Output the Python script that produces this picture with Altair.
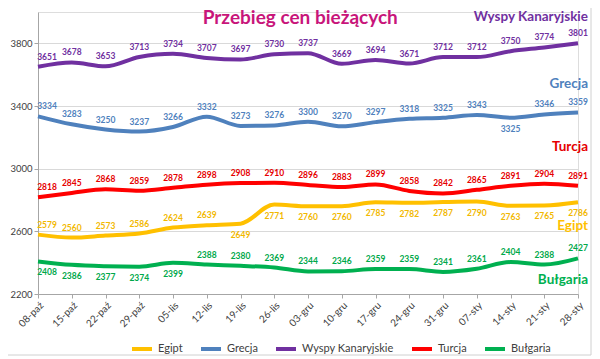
import altair as alt
import pandas as pd

cats = ["08-paź", "15-paź", "22-paź", "29-paź", "05-lis", "12-lis", "19-lis", "26-lis",
        "03-gru", "10-gru", "17-gru", "24-gru", "31-gru", "07-sty", "14-sty", "21-sty", "28-sty"]

egipt = [2579, 2560, 2573, 2586, 2624, 2639, 2649, 2771, 2760, 2760, 2785, 2782, 2787, 2790, 2763, 2765, 2786]
grecja = [3334, 3283, 3250, 3237, 3266, 3332, 3273, 3276, 3300, 3270, 3297, 3318, 3325, 3343, 3325, 3346, 3359]
wyspy = [3651, 3678, 3653, 3713, 3734, 3707, 3697, 3730, 3737, 3669, 3694, 3671, 3712, 3712, 3750, 3774, 3801]
turcja = [2818, 2845, 2868, 2859, 2878, 2898, 2908, 2910, 2896, 2883, 2899, 2858, 2842, 2865, 2891, 2904, 2891]
bulgaria = [2408, 2386, 2377, 2374, 2399, 2388, 2380, 2369, 2344, 2346, 2359, 2359, 2341, 2361, 2404, 2388, 2427]

series_names = ["Egipt", "Grecja", "Wyspy Kanaryjskie", "Turcja", "Bułgaria"]
series_vals = [egipt, grecja, wyspy, turcja, bulgaria]
colors = ["#FFC000", "#4F81BD", "#7030A0", "#FF0000", "#00B050"]
label_colors = ["#F2B800", "#4F81BD", "#7030A0", "#E60000", "#00A84A"]

# indices whose value label sits below the line
below = {
    "Egipt": list(range(6, 17)),
    "Grecja": [14],
    "Wyspy Kanaryjskie": [],
    "Turcja": [],
    "Bułgaria": [0, 1, 2, 3, 4],
}

rows = []
n = len(cats)
for name, vals in zip(series_names, series_vals):
    for i, (c, v) in enumerate(zip(cats, vals)):
        rows.append({"date": c, "value": v, "series": name,
                     "pos": "below" if i in below[name] else "above",
                     "end": "first" if i == 0 else ("last" if i == n - 1 else "mid")})
df = pd.DataFrame(rows)

# in-chart series names (anchored to last category)
ann_text = ["Wyspy Kanaryjskie", "Grecja", "Turcja", "Egipt", "Bułgaria"]
ann_y = [3968, 3540, 3138, 2632, 2290]
ann_col = ["#7030A0", "#4F81BD", "#E60000", "#FFC000", "#00B050"]
ann_df = pd.DataFrame({"text": ann_text, "y": ann_y, "date": [cats[-1]] * 5, "col": ann_col})

title_df = pd.DataFrame({"text": ["Przebieg cen bieżących"], "date": ["26-lis"], "y": [3962]})

FONT = "Lato"

xscale = alt.Scale(domain=cats, padding=0)
x = alt.X("date:O", scale=xscale,
          axis=alt.Axis(title=None, labelAngle=-45, labelFontSize=10, labelColor="#404040",
                        labelFont=FONT, domainColor="#A6A6A6", tickColor="#A6A6A6",
                        tickSize=4, grid=False, labelPadding=2))
x_plain = alt.X("date:O", scale=xscale)
y = alt.Y("value:Q", scale=alt.Scale(domain=[2200, 4000], nice=False, zero=False),
          axis=alt.Axis(title=None, values=list(range(2200, 4001, 200)), format="d",
                        labelFontSize=9.5,
                        labelColor="#404040", labelFont=FONT, domainColor="#A6A6A6",
                        tickColor="#A6A6A6", tickSize=4, gridColor="#D9D9D9", labelPadding=2))

color = alt.Color("series:N", scale=alt.Scale(domain=series_names, range=colors),
                  legend=alt.Legend(title=None, orient="none", direction="horizontal",
                                    legendX=92, legendY=325, symbolType="stroke",
                                    symbolStrokeWidth=4, symbolSize=400,
                                    labelFontSize=11, labelFont=FONT, labelColor="#404040",
                                    columnPadding=10, symbolOffset=0))

base = alt.Chart(df)
lines = base.mark_line(strokeWidth=4, interpolate="monotone").encode(x=x, y=y, color=color)

lab_color = alt.Color("series:N", scale=alt.Scale(domain=series_names, range=label_colors), legend=None)

label_layers = []
for pos, dy in [("above", -10), ("below", 11)]:
    for end, dx in [("first", 9), ("mid", 0), ("last", 0)]:
        label_layers.append(
            base.transform_filter((alt.datum.pos == pos) & (alt.datum.end == end)).mark_text(
                dy=dy, dx=dx, fontSize=8.5, fontWeight="bold", font=FONT).encode(
                x=x_plain, y="value:Q", text="value:Q", color=lab_color))

ann = alt.Chart(ann_df).mark_text(align="right", dx=10, fontSize=13.5, fontWeight="bold",
                                  font=FONT).encode(
    x=x_plain, y="y:Q", text="text:N",
    color=alt.Color("col:N", scale=None))

title = alt.Chart(title_df).mark_text(dx=26, fontSize=19, fontWeight="bold", font=FONT,
                                      color="#C8157A").encode(
    x=x_plain, y="y:Q", text="text:N")

frame = alt.Chart(pd.DataFrame({"a": [0]})).mark_rect(
    fill=None, stroke="#D0D0D0", strokeWidth=1).encode(
    x=alt.value(-35), x2=alt.value(553), y=alt.value(-9), y2=alt.value(343))

chart = alt.layer(frame, lines, *label_layers, ann, title).resolve_scale(
    color="independent").properties(
    width=540, height=282,
    autosize=alt.AutoSizeParams(type="none"),
    padding={"left": 30, "top": 4, "right": 14, "bottom": 65},
).configure_view(stroke=None).configure(background="white")

chart.save("out.html", embed_options={"renderer": "svg", "actions": False})
